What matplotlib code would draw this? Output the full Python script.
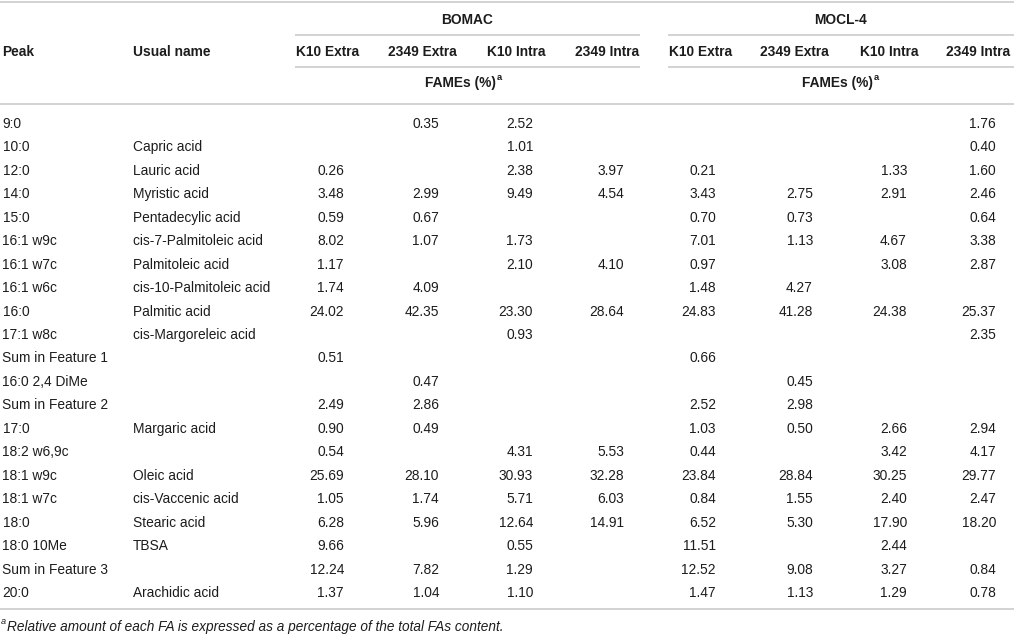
import matplotlib
matplotlib.use("Agg")
import matplotlib.pyplot as plt

# ---------------- data ----------------
groups = ["BOMAC", "MOCL-4"]
subcols = ["K10 Extra", "2349 Extra", "K10 Intra", "2349 Intra"]
unit_label = "FAMEs (%)"
peaks = ["9:0", "10:0", "12:0", "14:0", "15:0", "16:1 w9c", "16:1 w7c", "16:1 w6c",
         "16:0", "17:1 w8c", "Sum in Feature 1", "16:0 2,4 DiMe", "Sum in Feature 2",
         "17:0", "18:2 w6,9c", "18:1 w9c", "18:1 w7c", "18:0", "18:0 10Me",
         "Sum in Feature 3", "20:0"]
usual_names = ["", "Capric acid", "Lauric acid", "Myristic acid", "Pentadecylic acid",
               "cis-7-Palmitoleic acid", "Palmitoleic acid", "cis-10-Palmitoleic acid",
               "Palmitic acid", "cis-Margoreleic acid", "", "", "", "Margaric acid", "",
               "Oleic acid", "cis-Vaccenic acid", "Stearic acid", "TBSA", "", "Arachidic acid"]
N = None
bomac = [
    [N, 0.35, 2.52, N],
    [N, N, 1.01, N],
    [0.26, N, 2.38, 3.97],
    [3.48, 2.99, 9.49, 4.54],
    [0.59, 0.67, N, N],
    [8.02, 1.07, 1.73, N],
    [1.17, N, 2.10, 4.10],
    [1.74, 4.09, N, N],
    [24.02, 42.35, 23.30, 28.64],
    [N, N, 0.93, N],
    [0.51, N, N, N],
    [N, 0.47, N, N],
    [2.49, 2.86, N, N],
    [0.90, 0.49, N, N],
    [0.54, N, 4.31, 5.53],
    [25.69, 28.10, 30.93, 32.28],
    [1.05, 1.74, 5.71, 6.03],
    [6.28, 5.96, 12.64, 14.91],
    [9.66, N, 0.55, N],
    [12.24, 7.82, 1.29, N],
    [1.37, 1.04, 1.10, N],
]
mocl4 = [
    [N, N, N, 1.76],
    [N, N, N, 0.40],
    [0.21, N, 1.33, 1.60],
    [3.43, 2.75, 2.91, 2.46],
    [0.70, 0.73, N, 0.64],
    [7.01, 1.13, 4.67, 3.38],
    [0.97, N, 3.08, 2.87],
    [1.48, 4.27, N, N],
    [24.83, 41.28, 24.38, 25.37],
    [N, N, N, 2.35],
    [0.66, N, N, N],
    [N, 0.45, N, N],
    [2.52, 2.98, N, N],
    [1.03, 0.50, 2.66, 2.94],
    [0.44, N, 3.42, 4.17],
    [23.84, 28.84, 30.25, 29.77],
    [0.84, 1.55, 2.40, 2.47],
    [6.52, 5.30, 17.90, 18.20],
    [11.51, N, 2.44, N],
    [12.52, 9.08, 3.27, 0.84],
    [1.47, 1.13, 1.29, 0.78],
]
footnote = "Relative amount of each FA is expressed as a percentage of the total FAs content."

# ---------------- layout (pixels) ----------------
W, H = 1014, 636
FONT = "Liberation Sans"
FS = 9.9
TXT = "#1c1c1c"
LINE = "#cfcfcf"
LW = 1.3

num_right = [[344, 439, 533, 624], [716, 813, 907, 996]]
head_center = [[327.5, 422.5, 516.5, 607], [700.5, 794.5, 889, 978.5]]
group_span = [(295, 640), (668, 1014)]
group_center = [467.5, 840.5]
fames_right = [496, 873]
x_peak, x_name = 2.5, 133
y_group, y_head, y_unit = 20, 52, 83
y_first, dy = 124, 23.45

fig = plt.figure(figsize=(W / 100, H / 100), dpi=100)
ax = fig.add_axes([0, 0, 1, 1])
ax.set_xlim(0, W)
ax.set_ylim(H, 0)
ax.axis("off")

def hline(y, x0=0, x1=W):
    ax.plot([x0, x1], [y, y], color=LINE, lw=LW, solid_capstyle="butt")

# header lines
hline(2)
for (x0, x1) in group_span:
    hline(35, x0, x1)
    hline(67, x0, x1)
hline(104)

# header texts
ax.text(x_peak, y_head, "Peak", fontfamily=FONT, fontsize=FS, fontweight="bold",
        color=TXT, ha="left", va="center")
ax.text(x_name, y_head, "Usual name", fontfamily=FONT, fontsize=FS, fontweight="bold",
        color=TXT, ha="left", va="center")
for g in range(2):
    ax.text(group_center[g], y_group, groups[g], fontfamily=FONT, fontsize=FS,
            fontweight="bold", color=TXT, ha="center", va="center")
    for j, lab in enumerate(subcols):
        ax.text(head_center[g][j], y_head, lab, fontfamily=FONT, fontsize=FS,
                fontweight="bold", color=TXT, ha="center", va="center")
    ax.text(fames_right[g], y_unit, unit_label, fontfamily=FONT, fontsize=FS,
            fontweight="bold", color=TXT, ha="right", va="center")
    ax.text(fames_right[g] + 0.5, y_unit - 5, "a", fontfamily=FONT, fontsize=FS * 0.68,
            fontweight="bold", color=TXT, ha="left", va="center")

# body
for i in range(len(peaks)):
    y = y_first + i * dy
    ax.text(x_peak, y, peaks[i], fontfamily=FONT, fontsize=FS, color=TXT,
            ha="left", va="center")
    if usual_names[i]:
        ax.text(x_name, y, usual_names[i], fontfamily=FONT, fontsize=FS, color=TXT,
                ha="left", va="center")
    for g, block in enumerate([bomac, mocl4]):
        for j, v in enumerate(block[i]):
            if v is None:
                continue
            ax.text(num_right[g][j], y, f"{v:.2f}", fontfamily=FONT, fontsize=FS,
                    color=TXT, ha="right", va="center")

hline(609)

# footnote
ax.text(1, 622, "a", fontfamily=FONT, fontsize=6.6, style="italic", color=TXT,
        ha="left", va="center")
ax.text(7, 627, footnote, fontfamily=FONT, fontsize=9.8, style="italic", color=TXT,
        ha="left", va="center")

fig.savefig("out.png", dpi=100)
